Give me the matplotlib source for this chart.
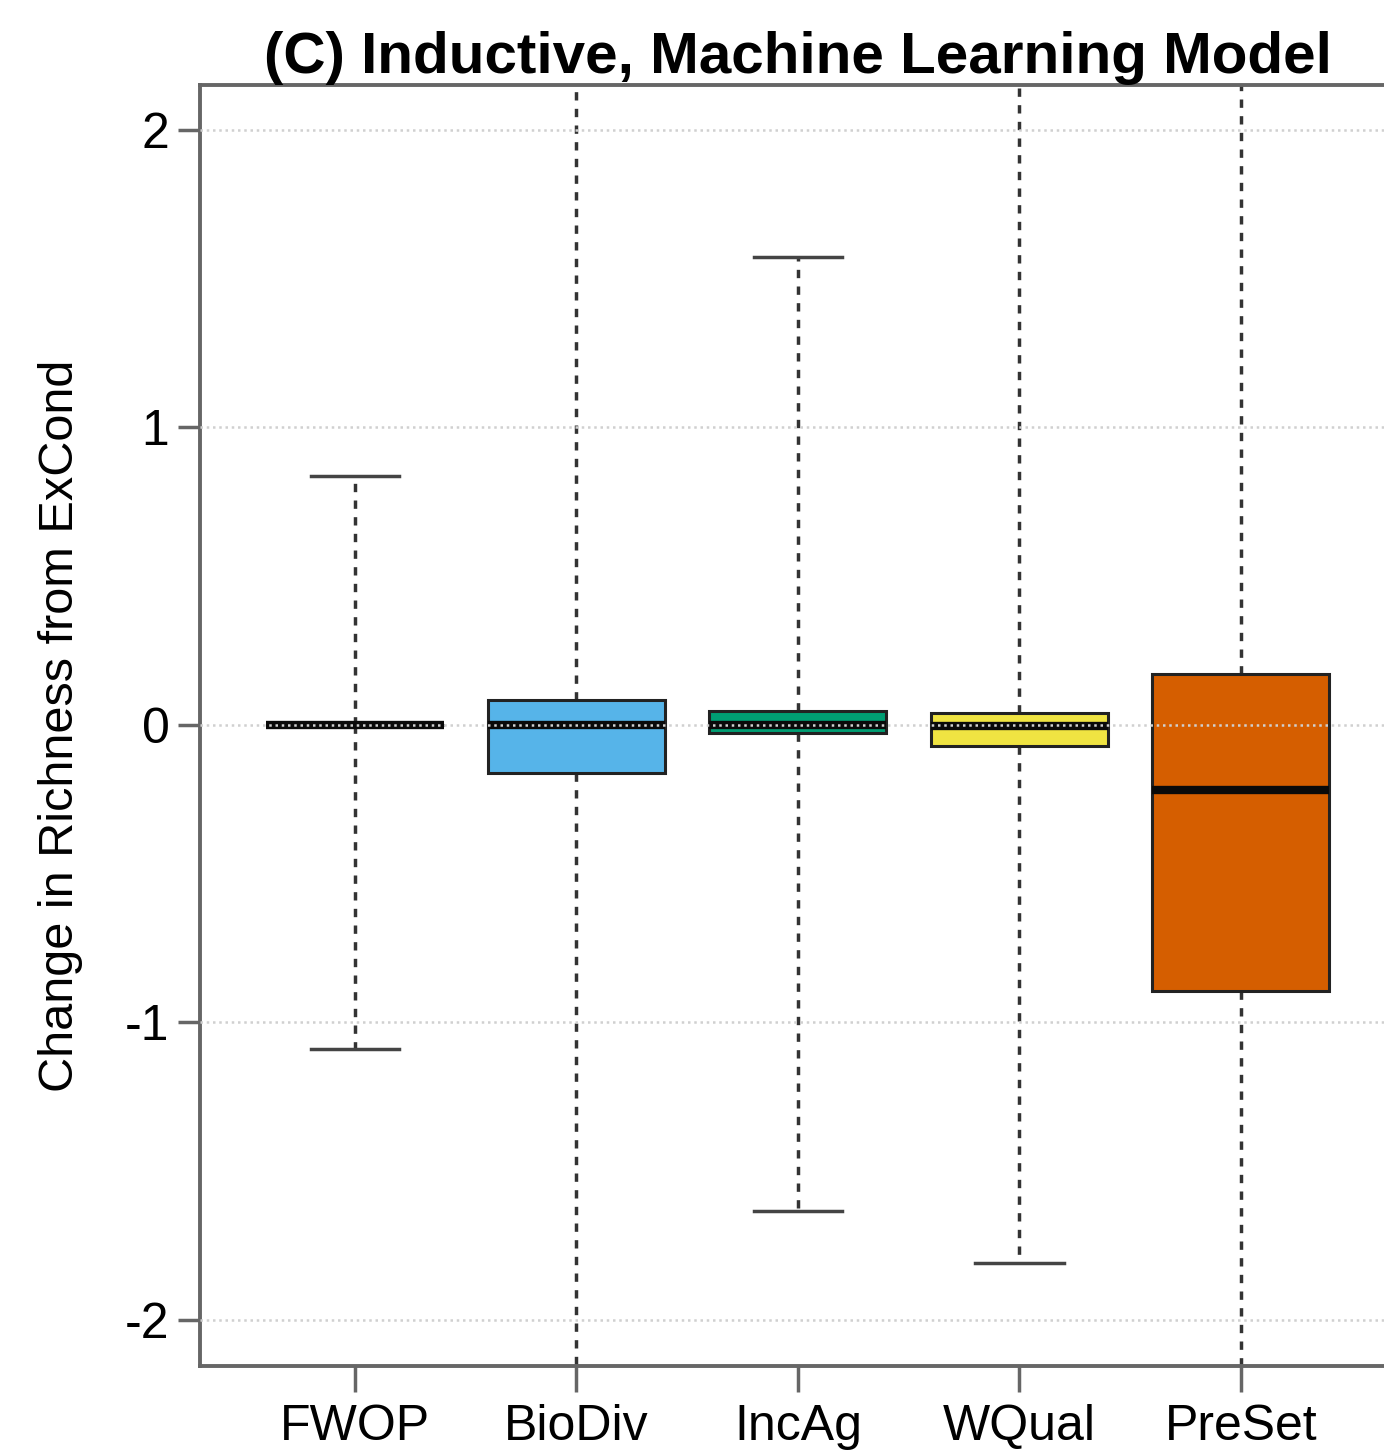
import matplotlib
matplotlib.use("Agg")
import matplotlib.pyplot as plt

plt.rcParams["font.family"] = ["Liberation Sans", "DejaVu Sans"]

# scenario summaries: change in richness relative to existing conditions
scenarios = ["FWOP", "BioDiv", "IncAg", "WQual", "PreSet"]
medians = [0.0, 0.0, 0.0, -0.005, -0.218]
q1 = [0.0, -0.161, -0.027, -0.07, -0.894]
q3 = [0.0, 0.084, 0.047, 0.04, 0.171]
whisker_lo = [-1.09, -2.45, -1.634, -1.808, -2.6]
whisker_hi = [0.837, 2.4, 1.573, 2.5, 2.7]
colors = ["#555555", "#56B4E9", "#009E73", "#F0E442", "#D55E00"]

fig = plt.figure(figsize=(13.84, 14.52), dpi=100)
ax = fig.add_axes([0.1445, 0.0592, 0.864, 0.8823])

stats = []
for name, m, lo, hi, wl, wh in zip(scenarios, medians, q1, q3, whisker_lo, whisker_hi):
    stats.append({"label": name, "med": m, "q1": lo, "q3": hi,
                  "whislo": wl, "whishi": wh, "fliers": []})

bp = ax.bxp(stats, positions=range(1, 6), widths=0.8, patch_artist=True,
            showfliers=False,
            boxprops=dict(linewidth=2.2, edgecolor="#222222"),
            medianprops=dict(color="#0a0a0a", linewidth=6, solid_capstyle="butt"),
            whiskerprops=dict(color="#333333", linewidth=2.5, linestyle=(0, (2.4, 2.4))),
            capprops=dict(color="#444444", linewidth=2.5),
            capwidths=0.4)
for patch, c in zip(bp["boxes"], colors):
    patch.set_facecolor(c)
for w in bp["whiskers"]:
    w.set_zorder(1)

# light dotted grid on top of the boxes
for yv in [-2, -1, 0, 1, 2]:
    ax.axhline(yv, color="#d0d0d0", linewidth=1.8, linestyle=(0, (1, 1.5)), zorder=5)

ax.set_xlim(0.30, 5.70)
ax.set_ylim(-2.155, 2.151)
ax.set_yticks([-2, -1, 0, 1, 2])
ax.set_yticklabels(["-2", "-1", "0", "1", "2"])
ax.set_xticks(range(1, 6))
ax.set_xticklabels(scenarios)

for s in ax.spines.values():
    s.set_linewidth(2.8)
    s.set_color("#666666")
ax.tick_params(axis="y", length=16, width=2.5, color="#666666", pad=6, labelsize=36)
ax.tick_params(axis="x", length=19, width=2.5, color="#666666", pad=8, labelsize=36)

ax.set_ylabel("Change in Richness from ExCond", fontsize=35, labelpad=30)
ax.set_title("(C) Inductive, Machine Learning Model", fontsize=42,
             fontweight="bold", pad=-4)

fig.savefig("out.png", dpi=100)
